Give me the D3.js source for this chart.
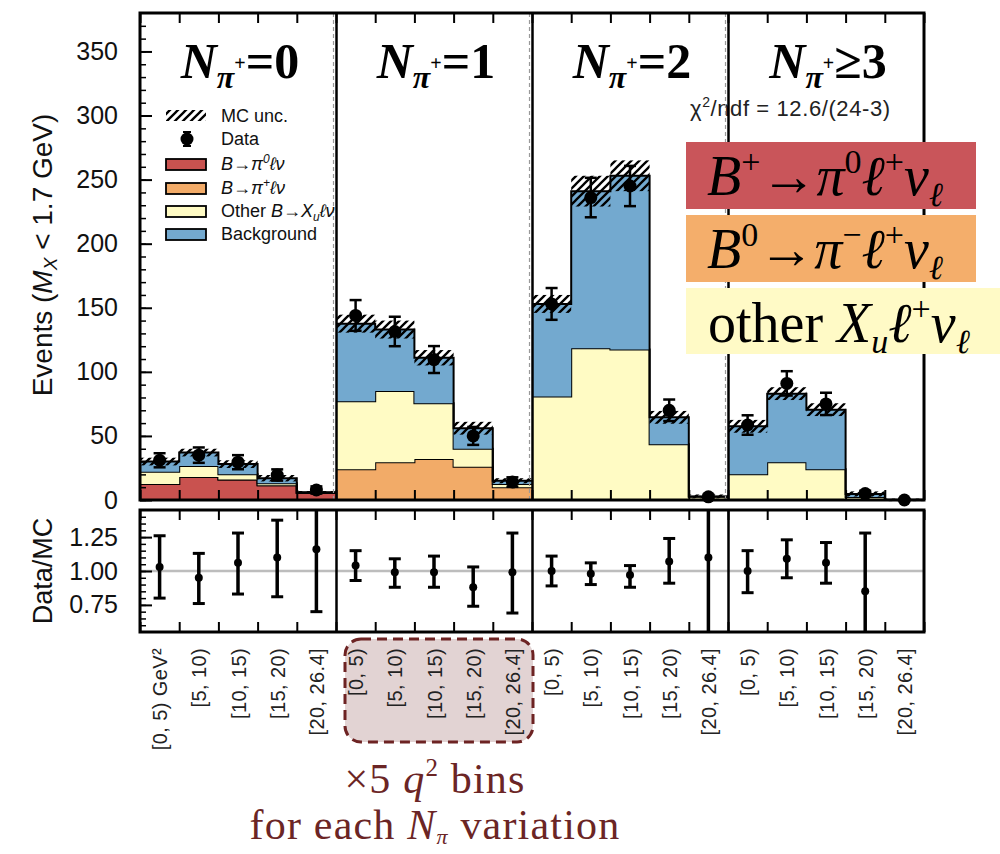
<!DOCTYPE html>
<html>
<head>
<meta charset="utf-8">
<script src="https://cdn.jsdelivr.net/npm/d3@7"></script>
<style>
body { margin: 0; background: #fff; }
svg { display: block; font-family: "Liberation Sans", Arial, sans-serif; }
</style>
</head>
<body>
<div id="chart"></div>
<script>
// four N_pi+ categories, five q2 bins each
var headerTail = ["=0", "=1", "=2", "≥3"];
var q2Bins = ["[0, 5)", "[5, 10)", "[10, 15)", "[15, 20)", "[20, 26.4]"];

// stacked MC components (events per bin)
var pi0 = [12.4, 18, 16, 11.5, 5.4, 0, 0, 0, 0, 0, 0, 0, 0, 0, 0, 0, 0, 0, 0, 0];
var piPlus = [0, 0, 0, 0, 0, 24, 29.5, 32, 26, 10, 0, 0, 0, 0, 0.3, 0, 0, 0, 0, 0];
var otherXu = [9.6, 8.5, 4, 1.5, 0.3, 53, 55.5, 43.5, 14, 2.5, 80.8, 118.5, 117.5, 43.5, 2.2, 20, 29.5, 24, 2.3, 0];
var background = [8, 10.5, 8, 4, 0.3, 60.6, 48, 35.5, 16, 2.5, 72.2, 122.5, 135.5, 21, 0.3, 37.5, 53.5, 46.5, 2.4, 0.1];
var mcUnc = [3, 3, 3, 2.5, 1, 7, 7, 6, 5, 2, 7, 12, 12, 5, 1.5, 5, 5, 5, 2, 1];

// data
var dataVal = [31, 35, 29.5, 19.5, 7.8, 144, 131.5, 109.6, 50, 14, 153, 236, 245, 70, 2.5, 58.5, 91, 75, 5, 0];
var dataErr = [5.5, 6, 5.5, 4.4, 2.8, 12, 11.5, 10.5, 7, 3.7, 12.4, 15.4, 15.7, 8.4, 1.6, 7.6, 9.5, 8.7, 2.2, 0];

// data / MC ratio
var ratio = [1.03, 0.95, 1.06, 1.10, 1.16, 1.04, 0.99, 0.99, 0.88, 0.99, 1.00, 0.98, 0.97, 1.07, 1.10, 1.00, 1.09, 1.06, 0.85, null];
var ratioLo = [0.80, 0.76, 0.83, 0.81, 0.70, 0.93, 0.88, 0.88, 0.74, 0.69, 0.89, 0.90, 0.88, 0.91, 0.30, 0.84, 0.95, 0.91, 0.30, null];
var ratioHi = [1.26, 1.13, 1.28, 1.375, 1.60, 1.15, 1.09, 1.11, 1.03, 1.28, 1.11, 1.06, 1.04, 1.24, 1.90, 1.15, 1.23, 1.21, 1.28, null];

var keys = ["pi0", "piPlus", "other", "bkg"];
var colors = { pi0: "#c9524f", piPlus: "#f2ab68", other: "#fffbc4", bkg: "#73a9cf" };

var width = 1000, height = 854;

var x = d3.scaleLinear().domain([0, 20]).range([140, 924]);
var y = d3.scaleLinear().domain([0, 380]).range([500, 13]);
var yr = d3.scaleLinear().domain([0.55, 1.45]).range([632, 510]);

var svg = d3.select("#chart").append("svg")
  .attr("width", width)
  .attr("height", height);

var defs = svg.append("defs");
defs.append("pattern")
  .attr("id", "hatch")
  .attr("patternUnits", "userSpaceOnUse")
  .attr("width", 8)
  .attr("height", 8)
  .append("path")
  .attr("d", "M-2,2 l4,-4 M0,8 l8,-8 M6,10 l4,-4")
  .attr("stroke", "#000")
  .attr("stroke-width", 2.3);

defs.append("clipPath")
  .attr("id", "ratioClip")
  .append("rect")
  .attr("x", 140).attr("y", 510)
  .attr("width", 784).attr("height", 122);

// ---------- upper panel: stacked histogram ----------
var rows = d3.range(20).map(function (i) {
  return { pi0: pi0[i], piPlus: piPlus[i], other: otherXu[i], bkg: background[i] };
});
var series = d3.stack().keys(keys)(rows);

var area = d3.area()
  .curve(d3.curveStepAfter)
  .x(function (d) { return x(d.x); })
  .y0(function (d) { return y(d.y0); })
  .y1(function (d) { return y(d.y1); });

var topLine = d3.line()
  .curve(d3.curveStepAfter)
  .x(function (d) { return x(d.x); })
  .y(function (d) { return y(d.y1); });

var hist = svg.append("g");
d3.range(4).forEach(function (s) {
  series.forEach(function (ser) {
    var pts = d3.range(6).map(function (e) {
      var b = ser[s * 5 + Math.min(e, 4)];
      return { x: s * 5 + e, y0: b[0], y1: b[1] };
    });
    hist.append("path")
      .attr("d", area(pts))
      .attr("fill", colors[ser.key]);
    hist.append("path")
      .attr("d", topLine(pts))
      .attr("fill", "none")
      .attr("stroke", "#000")
      .attr("stroke-width", 2);
  });
});

// MC uncertainty band
var total = rows.map(function (r) { return r.pi0 + r.piPlus + r.other + r.bkg; });
svg.append("g").selectAll("rect")
  .data(d3.range(20))
  .enter().append("rect")
  .attr("x", function (i) { return x(i); })
  .attr("width", function (i) { return x(i + 1) - x(i); })
  .attr("y", function (i) { return y(total[i] + mcUnc[i]); })
  .attr("height", function (i) { return y(total[i] - mcUnc[i]) - y(total[i] + mcUnc[i]); })
  .attr("fill", "url(#hatch)");

// data points
var pts = svg.append("g").selectAll("g")
  .data(d3.range(20))
  .enter().append("g");
pts.filter(function (i) { return dataErr[i] > 0; }).each(function (i) {
  var g = d3.select(this), cx = x(i + 0.5);
  g.append("line")
    .attr("x1", cx).attr("x2", cx)
    .attr("y1", y(dataVal[i] - dataErr[i])).attr("y2", y(dataVal[i] + dataErr[i]))
    .attr("stroke", "#000").attr("stroke-width", 2.5);
  [dataVal[i] - dataErr[i], dataVal[i] + dataErr[i]].forEach(function (v) {
    g.append("line")
      .attr("x1", cx - 6).attr("x2", cx + 6)
      .attr("y1", y(v)).attr("y2", y(v))
      .attr("stroke", "#000").attr("stroke-width", 2.5);
  });
});
pts.append("circle")
  .attr("cx", function (i) { return x(i + 0.5); })
  .attr("cy", function (i) { return y(dataVal[i]); })
  .attr("r", 6.5)
  .attr("fill", "#000");

// ---------- lower panel: ratio ----------
svg.append("line")
  .attr("x1", 140).attr("x2", 924)
  .attr("y1", yr(1)).attr("y2", yr(1))
  .attr("stroke", "#bdbdbd")
  .attr("stroke-width", 2.5);

var rg = svg.append("g").attr("clip-path", "url(#ratioClip)")
  .selectAll("g")
  .data(d3.range(20).filter(function (i) { return ratio[i] !== null; }))
  .enter().append("g");
rg.append("line")
  .attr("x1", function (i) { return x(i + 0.5); })
  .attr("x2", function (i) { return x(i + 0.5); })
  .attr("y1", function (i) { return yr(ratioLo[i]); })
  .attr("y2", function (i) { return yr(ratioHi[i]); })
  .attr("stroke", "#000").attr("stroke-width", 3.5);
rg.each(function (i) {
  var g = d3.select(this), cx = x(i + 0.5);
  [ratioLo[i], ratioHi[i]].forEach(function (v) {
    if (v < 0.55 || v > 1.45) return;
    g.append("line")
      .attr("x1", cx - 6).attr("x2", cx + 6)
      .attr("y1", yr(v)).attr("y2", yr(v))
      .attr("stroke", "#000").attr("stroke-width", 3);
  });
});
rg.append("circle")
  .attr("cx", function (i) { return x(i + 0.5); })
  .attr("cy", function (i) { return yr(ratio[i]); })
  .attr("r", 4)
  .attr("fill", "#000");

// chi2 label (under the divider lines)
var chi = svg.append("text")
  .attr("x", 690).attr("y", 116)
  .attr("font-size", 22)
  .attr("letter-spacing", 0.6)
  .attr("fill", "#222");
chi.append("tspan").text("χ");
chi.append("tspan").attr("font-size", 14).attr("dy", -9).text("2");
chi.append("tspan").attr("dy", 9).text("/ndf = 12.6/(24-3)");

// ---------- axes, ticks and frames ----------
var edges = d3.range(0, 21);

function tickAxis(axis, ty, size) {
  svg.append("g")
    .attr("transform", "translate(0," + ty + ")")
    .call(axis.tickValues(edges).tickSize(size).tickFormat(""))
    .call(function (g) { g.select(".domain").remove(); })
    .selectAll("line").attr("stroke-width", 2);
}
tickAxis(d3.axisTop(x), 13, -10);
tickAxis(d3.axisBottom(x), 500, -10);
tickAxis(d3.axisTop(x), 510, -10);
tickAxis(d3.axisBottom(x), 632, -10);

// y axis upper
var yMajor = svg.append("g")
  .attr("transform", "translate(140,0)")
  .call(d3.axisLeft(y).tickValues(d3.range(0, 351, 50)).tickSize(-12).tickPadding(22));
yMajor.select(".domain").remove();
yMajor.selectAll("line").attr("stroke-width", 2);
yMajor.selectAll("text").attr("font-size", 25).attr("font-family", "Liberation Sans, Arial, sans-serif").attr("fill", "#111");

var yMinor = svg.append("g")
  .attr("transform", "translate(140,0)")
  .call(d3.axisLeft(y).tickValues(d3.range(0, 371, 10)).tickSize(-6).tickFormat(""));
yMinor.select(".domain").remove();
yMinor.selectAll("line").attr("stroke-width", 1.5);

// y axis ratio
var rMajor = svg.append("g")
  .attr("transform", "translate(140,0)")
  .call(d3.axisLeft(yr).tickValues([0.75, 1.0, 1.25]).tickSize(-12).tickPadding(22).tickFormat(d3.format(".2f")));
rMajor.select(".domain").remove();
rMajor.selectAll("line").attr("stroke-width", 2);
rMajor.selectAll("text").attr("font-size", 25).attr("font-family", "Liberation Sans, Arial, sans-serif").attr("fill", "#111");

var rMinor = svg.append("g")
  .attr("transform", "translate(140,0)")
  .call(d3.axisLeft(yr).tickValues(d3.range(12, 29).map(function (k) { return k * 0.05; })).tickSize(-6).tickFormat(""));
rMinor.select(".domain").remove();
rMinor.selectAll("line").attr("stroke-width", 1.5);

// section dividers
[5, 10, 15].forEach(function (b) {
  svg.append("line")
    .attr("x1", x(b) - 2.5).attr("x2", x(b) - 2.5)
    .attr("y1", 13).attr("y2", 500)
    .attr("stroke", "#999").attr("stroke-width", 1.2)
    .attr("stroke-dasharray", "4,3");
  svg.append("line")
    .attr("x1", x(b) + 0.5).attr("x2", x(b) + 0.5)
    .attr("y1", 13).attr("y2", 500)
    .attr("stroke", "#000").attr("stroke-width", 2.5);
  svg.append("line")
    .attr("x1", x(b) + 0.5).attr("x2", x(b) + 0.5)
    .attr("y1", 510).attr("y2", 632)
    .attr("stroke", "#000").attr("stroke-width", 2.5);
});

// frames
svg.append("rect")
  .attr("x", 140).attr("y", 13).attr("width", 784).attr("height", 487)
  .attr("fill", "none").attr("stroke", "#000").attr("stroke-width", 3);
svg.append("rect")
  .attr("x", 140).attr("y", 510).attr("width", 784).attr("height", 122)
  .attr("fill", "none").attr("stroke", "#000").attr("stroke-width", 3);

// axis titles
var yt = svg.append("text")
  .attr("transform", "translate(52,255) rotate(-90)")
  .attr("text-anchor", "middle")
  .attr("font-size", 28)
  .attr("fill", "#111");
yt.append("tspan").text("Events (");
yt.append("tspan").attr("font-style", "italic").text("M");
yt.append("tspan").attr("font-style", "italic").attr("font-size", 19).attr("dy", 5).text("X");
yt.append("tspan").attr("dy", -5).text(" < 1.7 GeV)");

svg.append("text")
  .attr("transform", "translate(52,571) rotate(-90)")
  .attr("text-anchor", "middle")
  .attr("font-size", 27)
  .attr("fill", "#111")
  .text("Data/MC");

// annotation box behind the q2 labels
svg.append("rect")
  .attr("x", 345).attr("y", 639)
  .attr("width", 188).attr("height", 103)
  .attr("rx", 16)
  .attr("fill", "#6d2323").attr("fill-opacity", 0.2)
  .attr("stroke", "#6d2323").attr("stroke-width", 3)
  .attr("stroke-dasharray", "10,6");

// q2 bin labels
var xl = svg.append("g")
  .attr("transform", "translate(0,632)")
  .call(d3.axisBottom(x)
    .tickValues(d3.range(20).map(function (i) { return i + 0.5; }))
    .tickSize(0)
    .tickFormat(function (d, i) { return q2Bins[i % 5] + (i === 0 ? " GeV²" : ""); }));
xl.select(".domain").remove();
xl.selectAll("text")
  .attr("transform", "rotate(-90)")
  .attr("x", -16).attr("y", 0).attr("dy", "0.35em")
  .attr("text-anchor", "end")
  .attr("font-size", 20)
  .attr("letter-spacing", 0.4)
  .attr("font-family", "Liberation Sans, Arial, sans-serif")
  .attr("fill", "#222");

// ---------- headers ----------
d3.range(4).forEach(function (s) {
  var t = svg.append("text")
    .attr("x", x(s * 5 + 2.5) + 2)
    .attr("y", 78)
    .attr("text-anchor", "middle")
    .attr("font-family", "Liberation Serif, serif")
    .attr("font-weight", "bold")
    .attr("font-size", 50)
    .attr("fill", "#000");
  t.append("tspan").attr("font-style", "italic").text("N");
  t.append("tspan").attr("font-style", "italic").attr("font-size", 32).attr("dy", 10).text("π");
  t.append("tspan").attr("font-size", 20).attr("dy", -18).text("+");
  t.append("tspan").attr("dy", 8).text(headerTail[s]);
});

// ---------- legend ----------
var legend = svg.append("g").attr("font-size", 18).attr("fill", "#111");
legend.append("rect")
  .attr("x", 166).attr("y", 110).attr("width", 40).attr("height", 11)
  .attr("fill", "url(#hatch)");
legend.append("text").attr("x", 221).attr("y", 122).text("MC unc.");
legend.append("line")
  .attr("x1", 187).attr("x2", 187).attr("y1", 132).attr("y2", 146)
  .attr("stroke", "#000").attr("stroke-width", 2.5);
[132, 146].forEach(function (v) {
  legend.append("line")
    .attr("x1", 183).attr("x2", 191).attr("y1", v).attr("y2", v)
    .attr("stroke", "#000").attr("stroke-width", 2);
});
legend.append("circle").attr("cx", 187).attr("cy", 139).attr("r", 6.5).attr("fill", "#000");
legend.append("text").attr("x", 221).attr("y", 145).text("Data");

var legItems = [
  { key: "pi0", y: 159, parts: [["B→π", 0], ["0", -1], ["ℓν", 1]] },
  { key: "piPlus", y: 183, parts: [["B→π", 0], ["+", -1], ["ℓν", 1]] },
  { key: "other", y: 206, parts: [["Other ", 2], ["B→X", 0], ["u", 3], ["ℓν", 4]] },
  { key: "bkg", y: 229, parts: [["Background", 2]] }
];
legItems.forEach(function (it) {
  legend.append("rect")
    .attr("x", 166).attr("y", it.y).attr("width", 40).attr("height", 11)
    .attr("fill", colors[it.key]).attr("stroke", "#000").attr("stroke-width", 1.8);
  var t = legend.append("text").attr("x", 221).attr("y", it.y + 11);
  it.parts.forEach(function (p) {
    var ts = t.append("tspan").text(p[0]);
    if (p[1] !== 2) ts.attr("font-style", "italic");
    if (p[1] === -1) ts.attr("font-size", 12).attr("dy", -7);
    if (p[1] === 1) ts.attr("dy", 7);
    if (p[1] === 3) ts.attr("font-size", 12).attr("dy", 4);
    if (p[1] === 4) ts.attr("dy", -4);
  });
});

// ---------- coloured process boxes ----------
var boxes = [
  { fill: "#c9555a", x: 686, y: 142, w: 290, h: 67 },
  { fill: "#f4ae6b", x: 686, y: 215, w: 290, h: 67 },
  { fill: "#fffac6", x: 686, y: 288, w: 314, h: 66 }
];
boxes.forEach(function (b) {
  svg.append("rect")
    .attr("x", b.x).attr("y", b.y).attr("width", b.w).attr("height", b.h)
    .attr("fill", b.fill);
});

function mathText(xp, yp, parts) {
  var t = svg.append("text")
    .attr("x", xp).attr("y", yp)
    .attr("font-family", "Liberation Serif, serif")
    .attr("font-size", 56)
    .attr("fill", "#000");
  var shift = 0;
  parts.forEach(function (p) {
    var target = p.sup ? -22 : p.sub ? 11 : 0;
    var ts = t.append("tspan").attr("dy", target - shift).text(p.s);
    shift = target;
    if (p.it) ts.attr("font-style", "italic");
    if (p.sup || p.sub) ts.attr("font-size", 34);
  });
}
mathText(707, 195, [
  { s: "B", it: true }, { s: "+", sup: true }, { s: "→" }, { s: "π", it: true },
  { s: "0", sup: true }, { s: "ℓ", it: true }, { s: "+", sup: true }, { s: "ν", it: true }, { s: "ℓ", it: true, sub: true }
]);
mathText(707, 268, [
  { s: "B", it: true }, { s: "0", sup: true }, { s: "→" }, { s: "π", it: true },
  { s: "−", sup: true }, { s: "ℓ", it: true }, { s: "+", sup: true }, { s: "ν", it: true }, { s: "ℓ", it: true, sub: true }
]);
mathText(708, 342, [
  { s: "other " }, { s: "X", it: true }, { s: "u", it: true, sub: true }, { s: "ℓ", it: true },
  { s: "+", sup: true }, { s: "ν", it: true }, { s: "ℓ", it: true, sub: true }
]);

// ---------- bottom annotation ----------
var a1 = svg.append("text")
  .attr("x", 435).attr("y", 793)
  .attr("text-anchor", "middle")
  .attr("font-family", "Liberation Serif, serif")
  .attr("font-size", 42)
  .attr("letter-spacing", 1.2)
  .attr("fill", "#6b2525");
a1.append("tspan").text("×5 ");
a1.append("tspan").attr("font-style", "italic").text("q");
a1.append("tspan").attr("font-size", 25).attr("dy", -17).text("2");
a1.append("tspan").attr("dy", 17).text(" bins");

var a2 = svg.append("text")
  .attr("x", 435).attr("y", 839)
  .attr("text-anchor", "middle")
  .attr("font-family", "Liberation Serif, serif")
  .attr("font-size", 42)
  .attr("letter-spacing", 1.2)
  .attr("fill", "#6b2525");
a2.append("tspan").text("for each ");
a2.append("tspan").attr("font-style", "italic").text("N");
a2.append("tspan").attr("font-style", "italic").attr("font-size", 22).attr("dy", 5).text("π");
a2.append("tspan").attr("dy", -5).text(" variation");
</script>
</body>
</html>
